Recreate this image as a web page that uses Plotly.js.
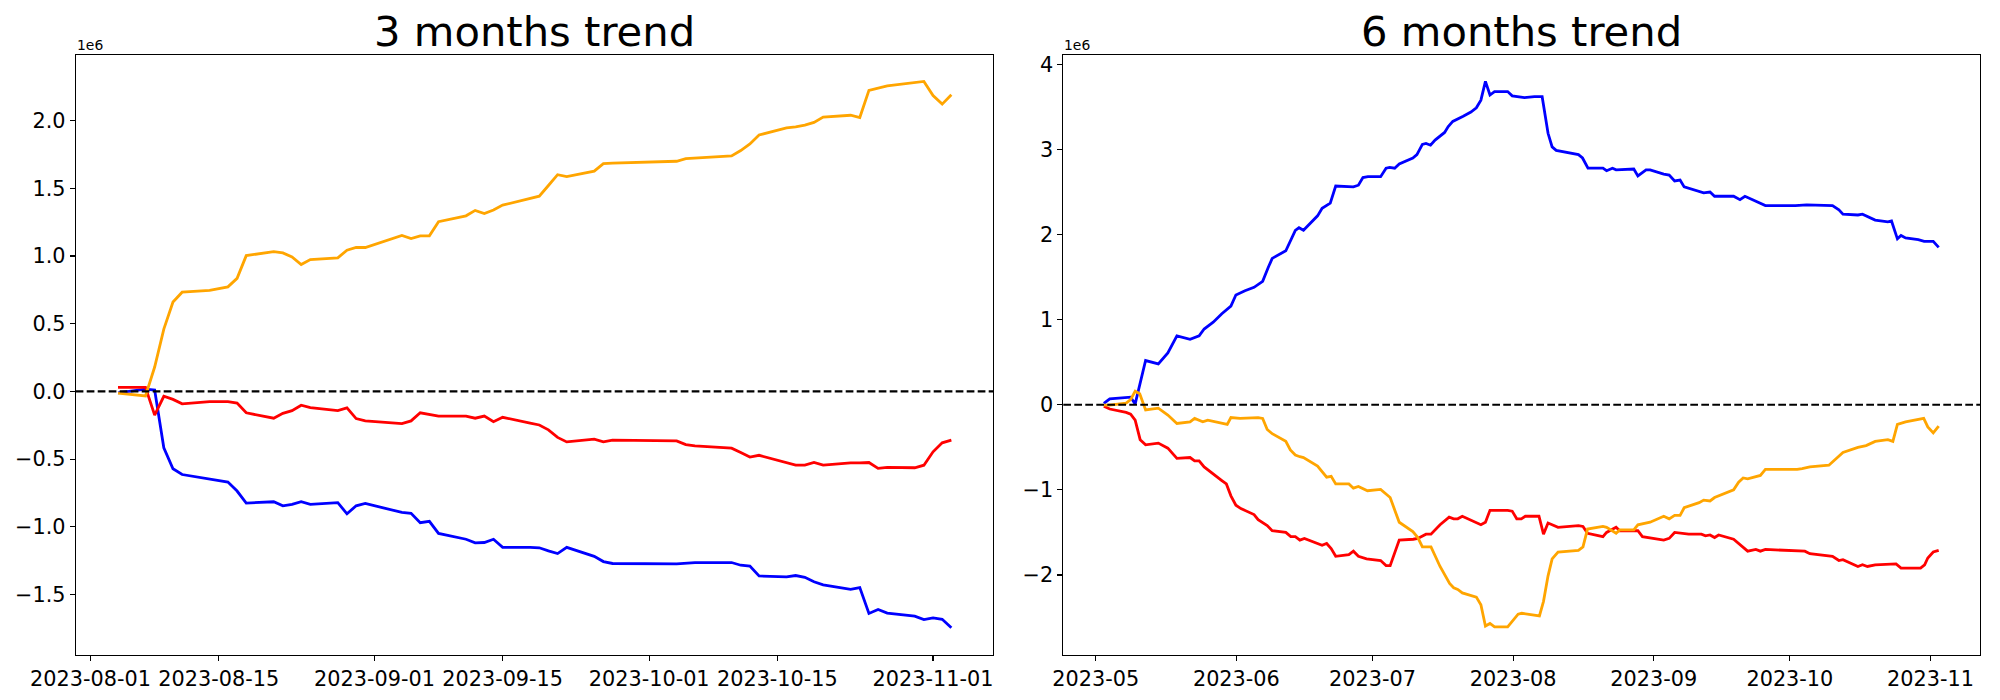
<!DOCTYPE html>
<html>
<head>
<meta charset="utf-8">
<script src="https://cdn.plot.ly/plotly-3.0.1.min.js"></script>
<style>html,body{margin:0;padding:0;background:#fff;}</style>
</head>
<body>
<div id="chart" style="width:2000px;height:700px;"></div>
<script>
// ---------------- DATA (values in units of 1e6) ----------------
// 3 months panel: x = days after 2023-08-01
const days3Blue   = [3,6,7,8,9,10,15,16,17,20,21,22,23,24,27,28,29,30,34,35,36,37,38,41,42,43,44,45,48,49,50,51,52,55,56,57,64,66,70,71,72,73,76,77,78,79,80,83,84,85,86,87,90,91,92,93,94];
const blue3       = [-0.01,0.017,0.01,-0.416,-0.571,-0.614,-0.670,-0.736,-0.825,-0.815,-0.845,-0.835,-0.815,-0.835,-0.822,-0.904,-0.845,-0.828,-0.894,-0.901,-0.970,-0.960,-1.049,-1.092,-1.119,-1.116,-1.092,-1.152,-1.152,-1.155,-1.178,-1.198,-1.152,-1.218,-1.257,-1.271,-1.274,-1.264,-1.264,-1.284,-1.290,-1.363,-1.370,-1.360,-1.373,-1.406,-1.429,-1.462,-1.449,-1.640,-1.611,-1.637,-1.660,-1.686,-1.673,-1.683,-1.746];
const days3Red    = [3,6,7,8,9,10,13,15,16,17,20,21,22,23,24,27,28,29,30,34,35,36,38,41,42,43,44,45,48,49,50,51,52,55,56,57,64,65,66,70,71,72,73,76,77,78,79,80,83,84,85,86,87,90,91,92,93,94];
const red3        = [0.030,0.030,-0.175,-0.036,-0.059,-0.092,-0.076,-0.076,-0.086,-0.158,-0.198,-0.162,-0.142,-0.102,-0.119,-0.142,-0.122,-0.201,-0.218,-0.238,-0.218,-0.158,-0.182,-0.182,-0.198,-0.182,-0.224,-0.191,-0.234,-0.248,-0.284,-0.340,-0.373,-0.353,-0.373,-0.360,-0.366,-0.393,-0.403,-0.419,-0.452,-0.485,-0.472,-0.528,-0.545,-0.545,-0.525,-0.545,-0.528,-0.528,-0.525,-0.568,-0.561,-0.564,-0.545,-0.446,-0.380,-0.360];
const days3Orange = [3,6,7,8,9,10,13,15,16,17,20,21,22,23,24,27,28,29,30,34,35,36,37,38,41,42,43,44,45,48,49,50,51,52,55,56,57,64,65,70,71,72,73,76,77,78,79,80,83,84,85,87,91,92,93,94];
const orange3     = [-0.013,-0.033,0.18,0.46,0.66,0.733,0.746,0.772,0.835,1.003,1.033,1.023,0.993,0.937,0.974,0.987,1.043,1.063,1.063,1.152,1.129,1.149,1.149,1.254,1.297,1.337,1.314,1.340,1.376,1.422,1.442,1.521,1.601,1.587,1.627,1.683,1.686,1.700,1.719,1.739,1.779,1.828,1.894,1.947,1.954,1.967,1.987,2.026,2.040,2.023,2.224,2.257,2.290,2.185,2.122,2.191];

// 6 months panel: x = days after 2023-05-01
const days6Blue   = [1.8,3.1,7.7,8.7,11.0,13.8,15.9,17.9,20.8,22.8,23.9,25.9,27.8,29.8,30.9,32.9,34.9,36.8,38.0,38.9,41.9,43.0,44.0,44.8,45.8,48.9,49.9,51.7,52.9,56.8,57.9,58.9,60.0,62.8,64.0,64.8,65.9,66.9,69.9,70.8,72.0,72.8,73.8,74.8,76.9,77.7,78.7,81.0,82.7,83.9,84.9,85.9,86.9,87.9,90.8,91.8,94.5,96.7,98.4,99.7,100.6,101.5,106.4,107.3,108.5,111.8,112.6,113.9,114.7,118.6,119.5,121.3,122.2,125.2,126.4,127.6,128.8,129.7,133.0,134.0,135.4,136.4,140.6,142.0,143.1,146.2,147.6,154.2,156.7,162.4,163.8,164.7,168.0,169.0,170.4,171.8,174.6,175.4,176.7,177.5,178.5,181.3,182.6,184.6,185.8];
const blue6       = [0.016,0.07,0.09,0.01,0.52,0.48,0.61,0.81,0.77,0.81,0.89,0.97,1.07,1.16,1.29,1.34,1.38,1.45,1.61,1.72,1.81,1.94,2.05,2.08,2.05,2.22,2.31,2.37,2.57,2.56,2.58,2.67,2.68,2.68,2.78,2.79,2.78,2.83,2.90,2.94,3.06,3.07,3.05,3.11,3.20,3.27,3.33,3.39,3.44,3.49,3.58,3.80,3.64,3.68,3.68,3.63,3.61,3.62,3.62,3.19,3.03,2.99,2.94,2.90,2.78,2.78,2.75,2.78,2.76,2.77,2.69,2.76,2.76,2.71,2.70,2.63,2.64,2.56,2.51,2.49,2.50,2.45,2.45,2.41,2.45,2.38,2.34,2.34,2.35,2.34,2.29,2.24,2.23,2.24,2.20,2.17,2.15,2.16,1.95,1.99,1.96,1.94,1.92,1.92,1.85];
const days6Red    = [1.8,3.1,6.7,7.7,8.7,9.8,11.0,13.8,15.9,17.9,20.8,21.8,22.8,23.9,27.8,28.8,29.8,30.9,32.0,34.9,35.8,37.8,38.9,41.9,43.0,44.0,45.0,46.0,49.9,50.9,51.9,52.9,55.8,56.8,57.9,59.7,62.8,64.0,64.9,66.0,66.9,70.0,71.0,72.8,73.9,75.9,77.9,78.9,79.8,80.8,83.9,84.9,85.9,86.9,90.8,91.8,92.8,93.8,94.7,97.7,98.7,99.7,100.6,101.9,106.4,107.4,108.4,111.8,112.6,114.7,115.5,118.6,119.5,120.5,125.2,126.4,127.6,130.7,133.5,134.4,135.4,136.4,137.3,140.6,142.0,143.7,145.5,146.5,147.6,155.3,156.3,157.4,161.6,162.4,163.8,164.7,168.0,169.0,170.1,171.8,176.4,177.5,181.8,182.7,183.4,184.6,185.8];
const red6        = [-0.016,-0.05,-0.09,-0.11,-0.18,-0.41,-0.47,-0.45,-0.51,-0.63,-0.62,-0.66,-0.66,-0.73,-0.89,-0.93,-1.07,-1.18,-1.22,-1.29,-1.35,-1.42,-1.48,-1.50,-1.55,-1.55,-1.59,-1.57,-1.65,-1.63,-1.69,-1.78,-1.76,-1.72,-1.78,-1.81,-1.83,-1.89,-1.89,-1.71,-1.59,-1.58,-1.57,-1.52,-1.52,-1.41,-1.32,-1.34,-1.34,-1.31,-1.39,-1.41,-1.38,-1.24,-1.24,-1.25,-1.34,-1.34,-1.31,-1.31,-1.52,-1.39,-1.41,-1.44,-1.42,-1.43,-1.51,-1.55,-1.50,-1.44,-1.48,-1.48,-1.48,-1.55,-1.59,-1.57,-1.50,-1.52,-1.52,-1.54,-1.53,-1.56,-1.53,-1.58,-1.64,-1.72,-1.70,-1.72,-1.70,-1.71,-1.72,-1.75,-1.77,-1.78,-1.83,-1.82,-1.90,-1.88,-1.90,-1.88,-1.87,-1.92,-1.92,-1.88,-1.80,-1.73,-1.71];
const days6Orange = [1.8,3.1,6.7,7.7,8.7,9.7,11.0,13.8,15.9,17.9,20.8,21.8,23.6,24.7,29.0,29.8,31.8,35.8,36.8,37.8,38.9,41.9,42.9,44.0,45.0,45.8,48.9,49.9,50.9,51.9,52.9,55.8,56.8,57.9,59.9,62.8,64.0,64.9,66.0,66.9,69.9,71.0,72.0,73.9,75.9,78.0,78.9,79.8,80.8,83.9,84.9,85.9,86.9,87.9,90.8,91.8,93.1,93.9,97.8,98.7,99.7,100.6,101.9,106.4,107.4,108.4,111.8,112.6,114.7,115.5,118.6,119.5,121.3,122.2,125.2,126.4,127.6,128.8,129.7,133.0,134.0,135.4,136.4,140.6,141.7,142.7,143.7,146.5,147.6,154.6,155.7,157.4,161.6,162.4,164.7,168.0,169.8,171.8,174.6,175.7,176.7,178.5,182.5,183.4,184.6,185.8];
const orange6     = [-0.005,-0.005,0.02,0.06,0.16,0.13,-0.06,-0.04,-0.12,-0.22,-0.20,-0.16,-0.20,-0.18,-0.23,-0.15,-0.16,-0.15,-0.16,-0.29,-0.34,-0.43,-0.53,-0.59,-0.61,-0.62,-0.72,-0.79,-0.85,-0.84,-0.93,-0.93,-0.98,-0.96,-1.01,-0.995,-1.05,-1.09,-1.25,-1.38,-1.49,-1.56,-1.67,-1.67,-1.90,-2.10,-2.15,-2.17,-2.21,-2.26,-2.35,-2.60,-2.57,-2.61,-2.61,-2.55,-2.46,-2.45,-2.48,-2.31,-2.01,-1.81,-1.73,-1.71,-1.67,-1.46,-1.43,-1.44,-1.51,-1.47,-1.47,-1.41,-1.39,-1.38,-1.31,-1.34,-1.30,-1.30,-1.21,-1.15,-1.12,-1.13,-1.09,-1.00,-0.91,-0.86,-0.87,-0.83,-0.76,-0.76,-0.75,-0.73,-0.71,-0.67,-0.56,-0.50,-0.48,-0.43,-0.41,-0.43,-0.23,-0.20,-0.16,-0.26,-0.33,-0.25];

// tick labels
const ticks3 = ['2023-08-01','2023-08-15','2023-09-01','2023-09-15','2023-10-01','2023-10-15','2023-11-01'];
const ticks6 = ['2023-05-01','2023-06-01','2023-07-01','2023-08-01','2023-09-01','2023-10-01','2023-11-01'];
const ticks6Text = ['2023-05','2023-06','2023-07','2023-08','2023-09','2023-10','2023-11'];
const titles = ['3 months trend', '6 months trend'];
const exponentLabel = '1e6';

// ---------------- BUILD ----------------
const BASE3 = Date.UTC(2023, 7, 1);
const BASE6 = Date.UTC(2023, 4, 1);
function toDates(base, days) {
  return days.map(d => new Date(base + d * 86400000).toISOString().slice(0, 19).replace('T', ' '));
}
const FONT = 'DejaVu Sans, Verdana, sans-serif';
const COL = {blue: '#0000ff', red: '#ff0000', orange: '#ffa500'};
function line(x, y, color, xa, ya) {
  return {x: x, y: y, type: 'scatter', mode: 'lines', xaxis: xa, yaxis: ya,
          line: {color: color, width: 2.8}, hoverinfo: 'skip', showlegend: false};
}
const traces = [
  line(toDates(BASE3, days3Blue), blue3, COL.blue, 'x', 'y'),
  line(toDates(BASE3, days3Red), red3, COL.red, 'x', 'y'),
  line(toDates(BASE3, days3Orange), orange3, COL.orange, 'x', 'y'),
  line(toDates(BASE6, days6Blue), blue6, COL.blue, 'x2', 'y2'),
  line(toDates(BASE6, days6Red), red6, COL.red, 'x2', 'y2'),
  line(toDates(BASE6, days6Orange), orange6, COL.orange, 'x2', 'y2')
];

const axisCommon = {
  showline: true, linecolor: 'black', linewidth: 1.1, mirror: true,
  ticks: 'outside', ticklen: 4.9, tickwidth: 1.1, tickcolor: 'black',
  showgrid: false, zeroline: false,
  tickfont: {family: FONT, size: 20.8, color: 'black'}
};
const yDomain = [0.0643, 0.92143];
const layout = {
  width: 2000, height: 700,
  margin: {l: 0, r: 0, t: 0, b: 0, pad: 0},
  paper_bgcolor: 'white', plot_bgcolor: 'white',
  showlegend: false,
  xaxis: Object.assign({}, axisCommon, {
    domain: [75.7 / 2000, 993.3 / 2000], anchor: 'y', type: 'date',
    range: ['2023-07-30 09:03', '2023-11-07 13:55'],
    tickmode: 'array', tickvals: ticks3, ticktext: ticks3
  }),
  yaxis: Object.assign({}, axisCommon, {
    domain: yDomain, anchor: 'x', range: [-1.947, 2.485],
    tickmode: 'linear', tick0: 0, dtick: 0.5, tickformat: '.1f'
  }),
  xaxis2: Object.assign({}, axisCommon, {
    domain: [1063.3 / 2000, 1980.3 / 2000], anchor: 'y2', type: 'date',
    range: ['2023-04-23 20:38', '2023-11-11 23:17'],
    tickmode: 'array', tickvals: ticks6, ticktext: ticks6Text
  }),
  yaxis2: Object.assign({}, axisCommon, {
    domain: yDomain, anchor: 'x2', range: [-2.94, 4.11],
    tickmode: 'linear', tick0: 0, dtick: 1
  }),
  shapes: [
    {type: 'line', xref: 'x domain', x0: 0, x1: 1, yref: 'y', y0: 0, y1: 0,
     line: {color: 'black', width: 2.1, dash: '7.7px,3.3px'}, layer: 'above'},
    {type: 'line', xref: 'x2 domain', x0: 0, x1: 1, yref: 'y2', y0: 0, y1: 0,
     line: {color: 'black', width: 2.1, dash: '7.7px,3.3px'}, layer: 'above'}
  ],
  annotations: [
    {text: titles[0], xref: 'paper', yref: 'paper', x: (75.7 + 993.3) / 2 / 2000, y: (700 - 57.5) / 700,
     xanchor: 'center', yanchor: 'bottom', showarrow: false, font: {family: FONT, size: 41.7, color: 'black'}},
    {text: titles[1], xref: 'paper', yref: 'paper', x: (1063.3 + 1980.3) / 2 / 2000, y: (700 - 57.5) / 700,
     xanchor: 'center', yanchor: 'bottom', showarrow: false, font: {family: FONT, size: 41.7, color: 'black'}},
    {text: exponentLabel, xref: 'paper', yref: 'paper', x: 74.5 / 2000, y: (700 - 55) / 700,
     xanchor: 'left', yanchor: 'bottom', showarrow: false, font: {family: FONT, size: 13.9, color: 'black'}},
    {text: exponentLabel, xref: 'paper', yref: 'paper', x: 1062 / 2000, y: (700 - 55) / 700,
     xanchor: 'left', yanchor: 'bottom', showarrow: false, font: {family: FONT, size: 13.9, color: 'black'}}
  ]
};
Plotly.newPlot('chart', traces, layout, {staticPlot: true, displayModeBar: false});
</script>
</body>
</html>
